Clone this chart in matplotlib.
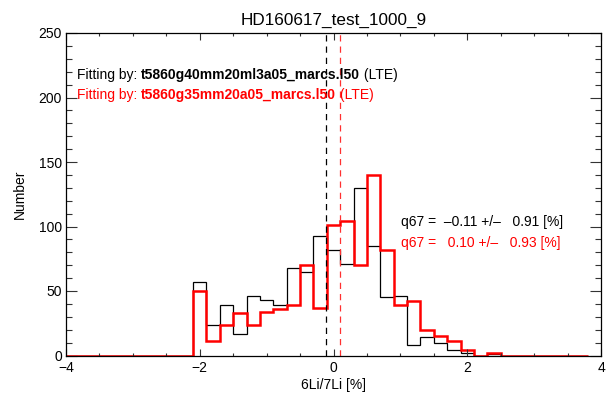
import matplotlib
matplotlib.use("Agg")
import matplotlib.pyplot as plt
from matplotlib.ticker import MultipleLocator

plt.rcParams['font.family'] = ['Liberation Sans', 'DejaVu Sans']

title = "HD160617_test_1000_9"
xlabel = "6Li/7Li [%]"
ylabel = "Number"

x_min, x_max = -4.0, 3.8
bin_width = 0.2
bin_centers = [-2.0, -1.8, -1.6, -1.4, -1.2, -1.0, -0.8, -0.6, -0.4, -0.2,
               0.0, 0.2, 0.4, 0.6, 0.8, 1.0, 1.2, 1.4, 1.6, 1.8, 2.0, 2.2, 2.4]
black_counts = [57, 24, 39, 17, 46, 43, 39, 68, 65, 93,
                82, 71, 130, 85, 45, 46, 8, 14, 10, 4, 2, 0, 1]
red_counts = [50, 11, 24, 33, 24, 34, 36, 39, 70, 37,
              101, 104, 70, 140, 82, 39, 42, 20, 15, 11, 4, 0, 2]

black_q67, black_err = -0.11, 0.91
red_q67, red_err = 0.10, 0.93
black_model = "t5860g40mm20ml3a05_marcs.l50"
red_model = "t5860g35mm20a05_marcs.l50"

FS = 10


def stairs_data(counts):
    edges = [x_min] + [c - bin_width / 2 for c in bin_centers] + \
        [bin_centers[-1] + bin_width / 2, x_max]
    values = [0] + list(counts) + [0]
    return values, edges


def fig_xy(px, py):
    return px / 611, 1 - py / 393


fig = plt.figure(figsize=(6.11, 3.93), dpi=100)
ax = fig.add_axes([66 / 611, 1 - 355.5 / 393, 535 / 611, 322.5 / 393])

v, e = stairs_data(black_counts)
ax.stairs(v, e, color='black', linewidth=0.9)
v, e = stairs_data(red_counts)
ax.stairs(v, e, color='red', linewidth=1.8)

ax.axvline(black_q67, color='black', linestyle=(0, (5, 4)), linewidth=0.9)
ax.axvline(red_q67, color='#ff3030', linestyle=(0, (5, 4)), linewidth=0.9)

ax.set_xlim(-4, 4)
ax.set_ylim(0, 250)
ax.xaxis.set_major_locator(MultipleLocator(2))
ax.xaxis.set_minor_locator(MultipleLocator(0.5))
ax.yaxis.set_major_locator(MultipleLocator(50))
ax.yaxis.set_minor_locator(MultipleLocator(10))
ax.tick_params(axis='both', which='both', direction='in', top=True, right=True,
               labelsize=FS, width=0.8, color='#333333')
ax.tick_params(axis='x', which='major', length=5, pad=4)
ax.tick_params(axis='x', which='minor', length=2.5)
ax.tick_params(axis='y', which='major', length=8, pad=3)
ax.tick_params(axis='y', which='minor', length=4)
for s in ax.spines.values():
    s.set_linewidth(0.9)

ax.set_title(title, fontsize=12.3, pad=6)
ax.set_xlabel(xlabel, fontsize=FS, labelpad=2)
ax.set_ylabel(ylabel, fontsize=FS, labelpad=8)


def fitting_line(py, model, color):
    t = fig.text(*fig_xy(77, py), "Fitting by: ", fontsize=FS, color=color,
                 va='center')
    t2 = ax.annotate(model, xy=(1, 0), xycoords=t, fontsize=FS, color=color,
                     fontweight='bold', ha='left', va='bottom',
                     annotation_clip=False)
    ax.annotate(" (LTE)", xy=(1, 0), xycoords=t2, fontsize=FS, color=color,
                ha='left', va='bottom', annotation_clip=False)


fitting_line(75, black_model, 'black')
fitting_line(95, red_model, 'red')

fig.text(*fig_xy(401, 222), "q67 =  %s +/\u2013   %.2f [%%]" % (
    ("%.2f" % black_q67).replace('-', '\u2013'), black_err),
    fontsize=FS, color='black', va='center')
fig.text(*fig_xy(401, 243), "q67 =   %.2f +/\u2013   %.2f [%%]" % (red_q67, red_err),
         fontsize=FS, color='red', va='center')

fig.savefig("out.png", dpi=100)
